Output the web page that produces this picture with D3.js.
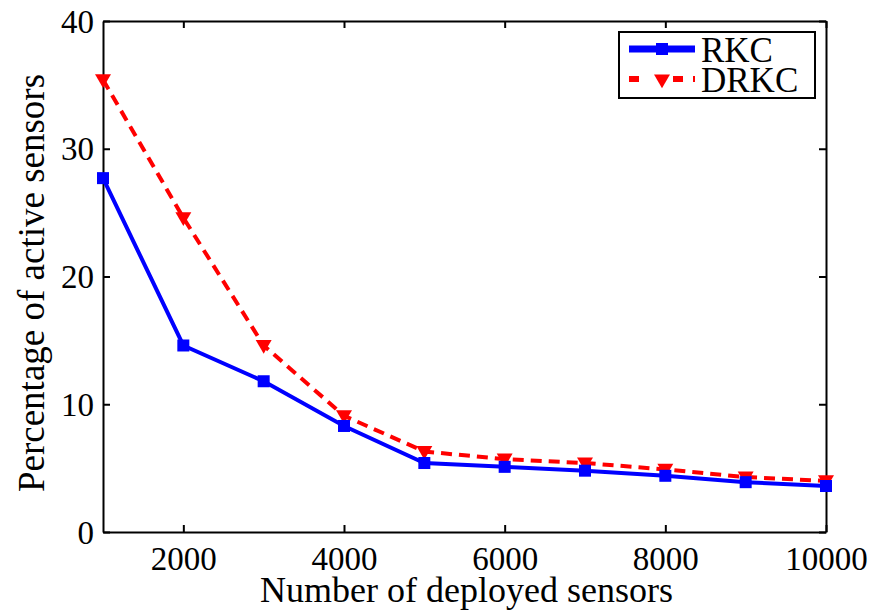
<!DOCTYPE html>
<html>
<head>
<meta charset="utf-8">
<script src="https://cdn.jsdelivr.net/npm/d3@7"></script>
<style>
  body { margin: 0; background: #fff; }
  svg { display: block; }
</style>
</head>
<body>
<div id="content"></div>
<script>
const sensors = [1000, 2000, 3000, 4000, 5000, 6000, 7000, 8000, 9000, 10000];
const rkc  = [27.7, 14.6, 11.8, 8.3, 5.4, 5.1, 4.8, 4.4, 3.9, 3.6];
const drkc = [35.4, 24.6, 14.6, 9.1, 6.3, 5.7, 5.4, 4.9, 4.3, 4.0];
const xTicks = [2000, 4000, 6000, 8000, 10000];
const yTicks = [0, 10, 20, 30, 40];
const seriesNames = ['RKC', 'DRKC'];

var width = 886;
var height = 612;
var margin = {left: 103, right: 60, top: 21, bottom: 80};
const serif = '"Liberation Serif", "DejaVu Serif", "Times New Roman", serif';

const svg = d3.select('#content')
              .append('svg')
              .attr('width', width)
              .attr('height', height);

const x = d3.scaleLinear()
            .domain([1000, 10000])
            .range([margin.left, width - margin.right]);

const y = d3.scaleLinear()
            .domain([0, 40])
            .range([height - margin.bottom, margin.top]);

// frame + ticks (matlab style, ticks pointing inward)
const axBottom = svg.append('g')
   .attr('transform', 'translate(0,' + y(0) + ')')
   .call(d3.axisBottom(x).tickValues(xTicks).tickFormat(d3.format('d'))
           .tickSizeInner(-7).tickSizeOuter(0).tickPadding(15));
const axTop = svg.append('g')
   .attr('transform', 'translate(0,' + y(40) + ')')
   .call(d3.axisTop(x).tickValues(xTicks).tickSizeInner(-7).tickSizeOuter(0).tickFormat(''));
const axLeft = svg.append('g')
   .attr('transform', 'translate(' + x(1000) + ',0)')
   .call(d3.axisLeft(y).tickValues(yTicks).tickSizeInner(-7).tickSizeOuter(0).tickPadding(9));
const axRight = svg.append('g')
   .attr('transform', 'translate(' + x(10000) + ',0)')
   .call(d3.axisRight(y).tickValues(yTicks).tickSizeInner(-7).tickSizeOuter(0).tickFormat(''));

[axBottom, axTop, axLeft, axRight].forEach(g => {
    g.attr('font-family', null);
    g.select('.domain').attr('stroke', '#000').attr('stroke-width', 2);
    g.selectAll('.tick line').attr('stroke', '#000').attr('stroke-width', 2);
});
axBottom.selectAll('.tick text')
        .style('font-family', serif).style('font-size', '33px').attr('fill', '#000').attr('dy', '0.71em');
axLeft.selectAll('.tick text')
      .style('font-family', serif).style('font-size', '33px').attr('fill', '#000').attr('dy', '0.34em');

// axis titles
svg.append('text')
   .attr('x', (x(1000) + x(10000)) / 2 + 2)
   .attr('y', 602)
   .attr('text-anchor', 'middle')
   .style('font-family', serif)
   .style('font-size', '36px')
   .text('Number of deployed sensors');

svg.append('text')
   .attr('transform', 'translate(44,' + 283 + ') rotate(-90)')
   .attr('text-anchor', 'middle')
   .style('font-family', serif)
   .style('font-size', '37px')
   .text('Percentage of active sensors');

const line = d3.line()
               .x((d, i) => x(sensors[i]))
               .y(d => y(d));

// DRKC: red dashed with down triangles
svg.append('path')
   .datum(drkc)
   .attr('fill', 'none')
   .attr('stroke', '#ff0000')
   .attr('stroke-width', 4)
   .attr('stroke-dasharray', '11,7')
   .attr('d', line);

const tri = d3.symbol().type(d3.symbolTriangle).size(110);

svg.append('g')
   .selectAll('path')
   .data(drkc)
   .enter()
   .append('path')
   .attr('d', tri)
   .attr('transform', (d, i) => 'translate(' + x(sensors[i]) + ',' + (y(d) - 1) + ') rotate(180)')
   .attr('fill', '#ff0000');

// RKC: blue solid with squares
svg.append('path')
   .datum(rkc)
   .attr('fill', 'none')
   .attr('stroke', '#0000ff')
   .attr('stroke-width', 4)
   .attr('d', line);

svg.append('g')
   .selectAll('rect')
   .data(rkc)
   .enter()
   .append('rect')
   .attr('x', (d, i) => x(sensors[i]) - 6)
   .attr('y', d => y(d) - 6)
   .attr('width', 12)
   .attr('height', 12)
   .attr('fill', '#0000ff');

// legend
const legend = svg.append('g').attr('transform', 'translate(619,32)');
legend.append('rect')
      .attr('width', 196)
      .attr('height', 66)
      .attr('fill', '#fff')
      .attr('stroke', '#000')
      .attr('stroke-width', 2);

legend.append('line')
      .attr('x1', 10).attr('x2', 76).attr('y1', 17).attr('y2', 17)
      .attr('stroke', '#0000ff').attr('stroke-width', 7);
legend.append('rect')
      .attr('x', 37).attr('y', 11).attr('width', 12).attr('height', 12)
      .attr('fill', '#0000ff');

legend.append('line')
      .attr('x1', 10).attr('x2', 76).attr('y1', 47).attr('y2', 47)
      .attr('stroke', '#ff0000').attr('stroke-width', 6)
      .attr('stroke-dasharray', '10,12,0,22,10');
legend.append('path')
      .attr('d', tri)
      .attr('transform', 'translate(43,47) rotate(180)')
      .attr('fill', '#ff0000');

legend.selectAll('text.lbl')
      .data(seriesNames)
      .enter()
      .append('text')
      .attr('class', 'lbl')
      .attr('x', 82)
      .attr('y', (d, i) => 30 + i * 30)
      .style('font-family', serif)
      .style('font-size', '35px')
      .text(d => d);
</script>
</body>
</html>
